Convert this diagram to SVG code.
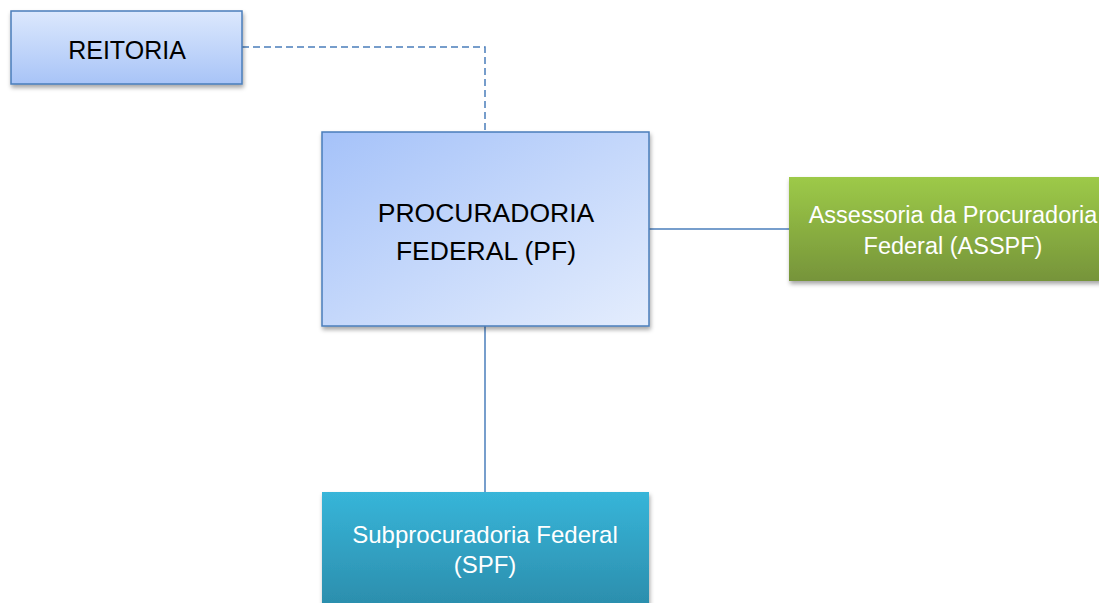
<svg xmlns="http://www.w3.org/2000/svg" width="1099" height="603" viewBox="0 0 1099 603">
<style>
.t{font-family:"Liberation Sans",Arial,sans-serif;text-anchor:middle}
.dk{fill:#000}
.wh{fill:#fff}
.con{fill:none;stroke:#4a7ebb;stroke-width:1.5}
.box{stroke:#4a7ebb;stroke-width:1.5}
</style>
<defs>
<linearGradient id="gR" x1="0" y1="0" x2="0" y2="1"><stop offset="0" stop-color="#dce8fd"/><stop offset="1" stop-color="#a8c4f7"/></linearGradient>
<linearGradient id="gP" x1="0" y1="0" x2="1" y2="1"><stop offset="0" stop-color="#a5c2f9"/><stop offset="1" stop-color="#e4edfd"/></linearGradient>
<linearGradient id="gG" x1="0" y1="0" x2="0" y2="1"><stop offset="0" stop-color="#9dca48"/><stop offset="1" stop-color="#76943a"/></linearGradient>
<linearGradient id="gS" x1="0" y1="0" x2="0" y2="1"><stop offset="0" stop-color="#37b5d9"/><stop offset="1" stop-color="#2a88a6"/></linearGradient>
<filter id="sh" x="-10%" y="-10%" width="130%" height="140%"><feDropShadow dx="1" dy="3" stdDeviation="2" flood-color="#000" flood-opacity="0.35"/></filter>
</defs>
<g id="connectors">
<path class="con" d="M242 47 H485 V132" stroke-width="2" stroke-dasharray="7 4"/>
<path class="con" d="M649 229 H789"/>
<path class="con" d="M485 326 V492"/>
</g>
<g id="reitoria">
<rect class="box" x="11" y="11" width="231" height="73" fill="url(#gR)" filter="url(#sh)"/>
<text class="t dk" x="127" y="59" font-size="25">REITORIA</text>
</g>
<g id="pf">
<rect class="box" x="322" y="132" width="327" height="194" fill="url(#gP)" filter="url(#sh)"/>
<text class="t dk" x="486" y="222" font-size="26.5">PROCURADORIA</text>
<text class="t dk" x="486" y="260" font-size="26.5">FEDERAL (PF)</text>
</g>
<g id="asspf">
<rect x="789" y="177" width="328" height="104" fill="url(#gG)" filter="url(#sh)"/>
<text class="t wh" x="953" y="223" font-size="23.5">Assessoria da Procuradoria</text>
<text class="t wh" x="953" y="254" font-size="23.5">Federal (ASSPF)</text>
</g>
<g id="spf">
<rect x="322" y="492" width="327" height="130" fill="url(#gS)" filter="url(#sh)"/>
<text class="t wh" x="485" y="543" font-size="24">Subprocuradoria Federal</text>
<text class="t wh" x="485" y="573" font-size="24">(SPF)</text>
</g>
</svg>
